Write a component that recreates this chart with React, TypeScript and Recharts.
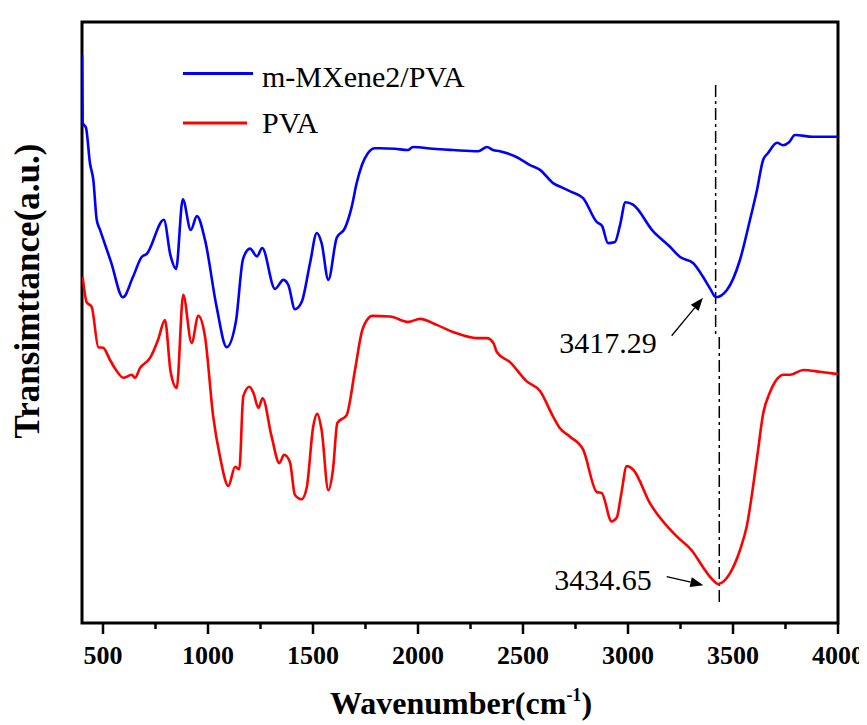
import { Customized, Line, LineChart, ReferenceLine, XAxis, YAxis } from "recharts";

// FTIR spectra (transmittance in arbitrary units, 0-100)
const mxeneWn = [
    400, 403, 419, 438, 454, 470, 486, 538, 595, 643, 684, 708, 790, 821, 848, 880, 918, 947, 986,
    1041, 1089, 1133, 1167, 1200, 1233, 1258, 1319, 1359, 1383, 1414, 1446, 1486, 1518, 1541, 1573,
    1613, 1652, 1684, 1708, 1733, 1762, 1795, 1819, 1890, 1952, 1976, 2071, 2167, 2286, 2329, 2357,
    2390, 2471, 2533, 2581, 2643, 2690, 2733, 2786, 2852, 2876, 2905, 2938, 2962, 2988, 3024, 3119,
    3200, 3248, 3310, 3357, 3390, 3419, 3471, 3533, 3581, 3614, 3643, 3667, 3710, 3738, 3767, 3795,
    3881, 3938, 4000,
];
const mxeneT = [
    94.5, 83.2, 82.4, 76.5, 73.7, 67.1, 65.4, 60.1, 54.2, 57.6, 60.9, 61.4, 67.1, 61.2, 58.9, 70.5,
    65.4, 67.7, 63.7, 52.6, 45.9, 50.2, 60.6, 62.3, 61.0, 62.4, 55.6, 57.1, 56.2, 52.2, 53.4, 59.9,
    64.9, 63.2, 57.1, 64.1, 65.7, 69.2, 73.2, 76.2, 78.2, 79.0, 79.0, 78.9, 78.7, 79.2, 78.9, 78.7,
    78.5, 79.2, 78.7, 78.5, 77.5, 76.2, 75.4, 73.2, 72.4, 71.7, 70.7, 66.7, 66.1, 63.2, 63.4, 66.2,
    70.0, 69.6, 65.2, 62.6, 60.9, 59.9, 57.6, 55.7, 54.2, 55.4, 60.4, 67.1, 72.0, 77.0, 78.2, 79.9,
    79.5, 80.0, 81.2, 80.9, 80.9, 80.9,
];

const pvaWn = [
    403, 422, 446, 478, 501, 533, 562, 597, 637, 652, 676, 724, 762, 795, 822, 851, 882, 922, 954,
    986, 1025, 1057, 1097, 1129, 1149, 1168, 1197, 1216, 1240, 1260, 1303, 1340, 1362, 1390, 1414,
    1446, 1470, 1501, 1520, 1541, 1573, 1595, 1616, 1660, 1700, 1732, 1763, 1780, 1867, 1954, 2010,
    2089, 2176, 2280, 2327, 2359, 2375, 2438, 2518, 2581, 2644, 2676, 2724, 2787, 2851, 2875, 2922,
    2946, 2967, 2994, 3025, 3105, 3232, 3303, 3359, 3395, 3430, 3486, 3533, 3565, 3613, 3644, 3676,
    3700, 3740, 3771, 3835, 3914, 4000,
];
const pvaT = [
    57.6, 53.4, 52.6, 45.9, 45.8, 43.8, 42.1, 40.8, 41.3, 40.8, 42.4, 44.1, 47.1, 50.4, 41.8, 39.1,
    54.6, 46.6, 51.1, 47.6, 34.3, 27.7, 22.8, 26.0, 25.6, 37.7, 39.3, 38.3, 35.8, 37.4, 31.0, 26.6,
    28.0, 26.8, 21.3, 20.6, 22.5, 32.7, 34.8, 32.1, 22.1, 25.5, 33.3, 34.6, 42.1, 48.4, 50.7, 51.1,
    51.0, 50.1, 50.6, 49.6, 48.3, 47.4, 47.4, 46.6, 45.1, 43.4, 40.2, 38.6, 34.3, 32.4, 31.0, 28.8,
    21.8, 21.6, 16.9, 17.5, 21.3, 26.1, 25.5, 19.9, 14.4, 12.1, 9.2, 7.5, 6.5, 8.3, 12.1, 16.0, 27.1,
    34.9, 38.4, 40.1, 41.3, 41.3, 42.1, 41.8, 41.4,
];

const majorTicks = [500, 1000, 1500, 2000, 2500, 3000, 3500, 4000];
const minorTicks = [750, 1250, 1750, 2250, 2750, 3250, 3750];

const peakMxene = 3417.29;
const peakPva = 3434.65;

const mxeneData = mxeneWn.map((wn, i) => ({ wn, t: mxeneT[i] }));
const pvaData = pvaWn.map((wn, i) => ({ wn, t: pvaT[i] }));

const serif = '"Liberation Serif", "Times New Roman", serif';

// plot box inside the svg (follows from the chart margins below)
const W = 859;
const H = 717;
const M = { top: 14, right: 29, bottom: 42, left: 74 };
const AXIS_H = 60;
const box = { x: M.left, y: M.top, w: W - M.left - M.right, h: H - M.top - M.bottom - AXIS_H };
const wnToPx = (v: number) => box.x + ((v - 400) / 3600) * box.w;

const TickLabel = (props: any) => {
    const { x, y, payload } = props;
    return (
        <text
            x={x}
            y={y + 41}
            textAnchor="middle"
            fontWeight="bold"
            fontSize={26}
            fill="#000"
            style={{ fontFamily: serif }}
        >
            {payload.value}
        </text>
    );
};

const arrow = (label: string, dx: number, dy: number) => (p: any) => {
    const { x1, y1, x2, y2 } = p;
    const a = Math.atan2(y2 - y1, x2 - x1);
    const len = 13;
    const w = 5;
    const bx = x2 - len * Math.cos(a);
    const by = y2 - len * Math.sin(a);
    const pts = `${x2},${y2} ${bx - w * Math.sin(a)},${by + w * Math.cos(a)} ${bx + w * Math.sin(a)},${by - w * Math.cos(a)}`;
    return (
        <g>
            <line x1={x1} y1={y1} x2={bx} y2={by} stroke="#000" strokeWidth={1.3} />
            <polygon points={pts} fill="#000" />
            <text x={x1 + dx} y={y1 + dy} textAnchor="end" fontSize={30} fill="#000" style={{ fontFamily: serif }}>
                {label}
            </text>
        </g>
    );
};

const bottom = box.y + box.h;

const Decorations = () => (
    <g fill="#000" style={{ fontFamily: serif }}>
        {/* frame and x ticks */}
        <rect x={box.x} y={box.y} width={box.w} height={box.h} fill="none" stroke="#000" strokeWidth={3} />
        {majorTicks.map((v) => (
            <line key={`M${v}`} x1={wnToPx(v)} x2={wnToPx(v)} y1={bottom} y2={bottom + 11} stroke="#000" strokeWidth={2.5} />
        ))}
        {minorTicks.map((v) => (
            <line key={`m${v}`} x1={wnToPx(v)} x2={wnToPx(v)} y1={bottom} y2={bottom + 6} stroke="#000" strokeWidth={2.5} />
        ))}
        {/* legend */}
        <line x1={175} x2={245} y1={65.5} y2={65.5} stroke="#0000ff" strokeWidth={3} />
        <text x={254} y={78.5} fontSize={30}>m-MXene2/PVA</text>
        <line x1={175} x2={239} y1={115} y2={115} stroke="#ff0000" strokeWidth={3} />
        <text x={254} y={125} fontSize={30}>PVA</text>
        {/* axis titles */}
        <text x={453} y={706} textAnchor="middle" fontSize={32} fontWeight="bold">
            Wavenumber(cm<tspan fontSize={18} dy={-13}>-1</tspan><tspan dy={13}>)</tspan>
        </text>
        <text x={31} y={283} textAnchor="middle" fontSize={35} fontWeight="bold" transform="rotate(-90 31 283)">
            Transimttance(a.u.)
        </text>
    </g>
);

export default function App() {
    return (
        <LineChart width={W} height={H} margin={M}>
            <XAxis
                type="number"
                dataKey="wn"
                domain={[400, 4000]}
                ticks={majorTicks}
                interval={0}
                tick={<TickLabel />}
                tickLine={false}
                tickSize={0}
                tickMargin={0}
                height={AXIS_H}
                axisLine={false}
                allowDataOverflow
            />
            <YAxis type="number" domain={[0, 100]} width={0} tick={false} tickLine={false} axisLine={false} allowDataOverflow />
            <ReferenceLine
                segment={[{ x: peakMxene, y: 89.5 }, { x: peakMxene, y: 47.6 }]}
                stroke="#000"
                strokeWidth={1.5}
                strokeDasharray="12 4 3 4"
            />
            <ReferenceLine
                segment={[{ x: peakPva, y: 47.6 }, { x: peakPva, y: 3 }]}
                stroke="#000"
                strokeWidth={1.5}
                strokeDasharray="12 4 3 4"
            />
            <Line
                data={mxeneData}
                dataKey="t"
                type="monotone"
                stroke="#0000ff"
                strokeWidth={2.6}
                dot={false}
                isAnimationActive={false}
            />
            <Line
                data={pvaData}
                dataKey="t"
                type="monotone"
                stroke="#ff0000"
                strokeWidth={2.6}
                dot={false}
                isAnimationActive={false}
            />
            <ReferenceLine
                segment={[{ x: 3208, y: 47.8 }, { x: 3357, y: 54.1 }]}
                shape={arrow(String(peakMxene), -15, 17)}
            />
            <ReferenceLine
                segment={[{ x: 3184, y: 7.7 }, { x: 3359, y: 6.3 }]}
                shape={arrow(String(peakPva), -15, 13)}
            />
            <Customized component={Decorations} />
        </LineChart>
    );
}
